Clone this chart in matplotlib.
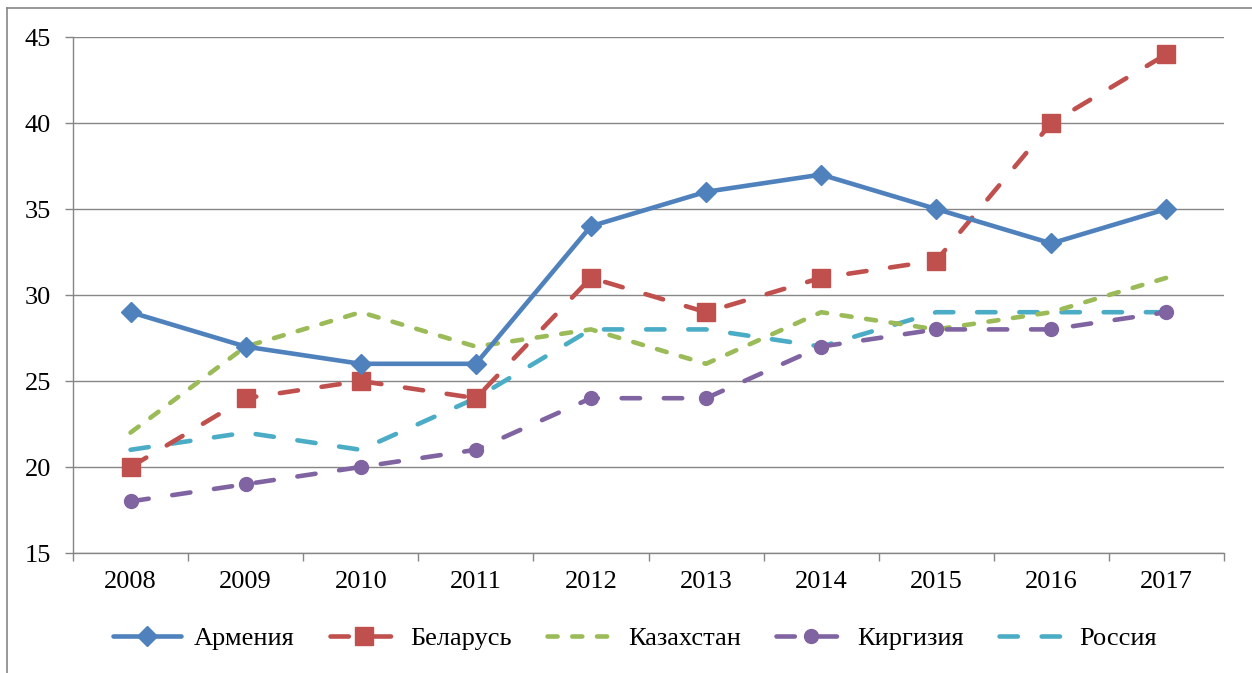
import matplotlib
matplotlib.use("Agg")
import matplotlib.pyplot as plt
from matplotlib.lines import Line2D

years = ["2008", "2009", "2010", "2011", "2012", "2013", "2014", "2015", "2016", "2017"]
armenia = [29, 27, 26, 26, 34, 36, 37, 35, 33, 35]
belarus = [20, 24, 25, 24, 31, 29, 31, 32, 40, 44]
kazakhstan = [22, 27, 29, 27, 28, 26, 29, 28, 29, 31]
kyrgyzstan = [18, 19, 20, 21, 24, 24, 27, 28, 28, 29]
russia = [21, 22, 21, 24, 28, 28, 27, 29, 29, 29]
y_ticks = [15, 20, 25, 30, 35, 40, 45]

plt.rcParams['font.family'] = ['Liberation Serif', 'DejaVu Serif']
fig = plt.figure(figsize=(12.52, 6.73), dpi=100)
ax = fig.add_axes([73/1252, 1-553/673, (1224-73)/1252, (553-37)/673])

x = list(range(len(years)))
lw = 3.3
long_dash = (4, 5.2)
short_dash = (2.2, 3.2)
ax.plot(x, armenia, color='#4F81BD', lw=lw, marker='D', ms=10, label='Армения',
        solid_capstyle='round', solid_joinstyle='round', zorder=5)
ax.plot(x, belarus, color='#C0504D', lw=lw, marker='s', ms=13.5, label='Беларусь',
        dashes=long_dash, dash_capstyle='round', zorder=4)
ax.plot(x, kazakhstan, color='#9BBB59', lw=lw, label='Казахстан',
        dashes=short_dash, dash_capstyle='round', zorder=3)
ax.plot(x, kyrgyzstan, color='#8064A2', lw=lw, marker='o', ms=10, label='Киргизия',
        dashes=long_dash, dash_capstyle='round', zorder=3)
ax.plot(x, russia, color='#4BACC6', lw=lw, label='Россия',
        dashes=long_dash, dash_capstyle='round', zorder=2)

ax.set_xlim(-0.5, len(years) - 0.5)
ax.set_ylim(15, 45)
ax.set_yticks(y_ticks)
ax.set_yticklabels([str(v) for v in y_ticks])
ax.set_xticks(x)
ax.set_xticklabels(years)
ax.set_xticks([i - 0.5 for i in range(len(years) + 1)], minor=True)
ax.tick_params(axis='x', which='major', length=0, pad=13, labelsize=19)
ax.tick_params(axis='x', which='minor', length=6, width=1, color='#868686', direction='out')
ax.tick_params(axis='y', length=6, width=1, color='#868686', direction='out', pad=10, labelsize=19)
ax.grid(axis='y', color='#868686', lw=1.0)
ax.set_axisbelow(True)
for s in ['top', 'right']:
    ax.spines[s].set_visible(False)
for s in ['left', 'bottom']:
    ax.spines[s].set_color('#868686')
    ax.spines[s].set_linewidth(1.0)

leg = fig.legend(loc='center', bbox_to_anchor=(635/1252, 1-638/673), ncol=5, frameon=False,
                 fontsize=19, handlelength=2.6, columnspacing=1.35, handletextpad=0.45)

# outer chart border
fig.add_artist(Line2D([7/1252, 7/1252], [0, 1-8/673], transform=fig.transFigure, color='#868686', lw=1.2))
fig.add_artist(Line2D([7/1252, 1], [1-8/673, 1-8/673], transform=fig.transFigure, color='#868686', lw=1.2))

fig.savefig('out.png', dpi=100)
